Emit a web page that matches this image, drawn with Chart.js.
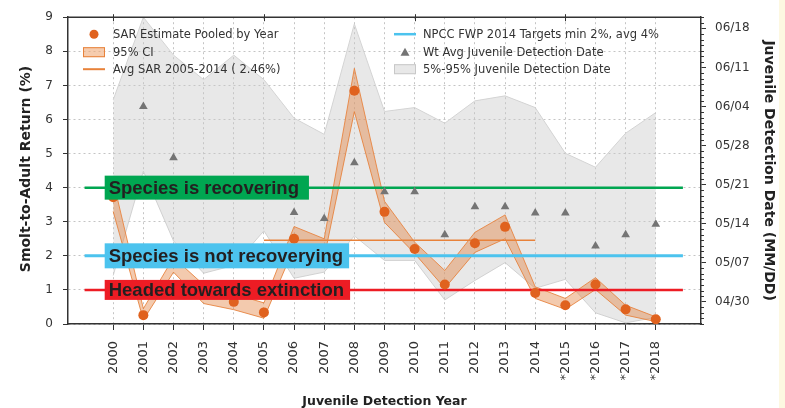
<!DOCTYPE html>
<html><head><meta charset="utf-8">
<script src="https://cdn.jsdelivr.net/npm/chart.js@4.4.0/dist/chart.umd.min.js"></script>
<style>
html,body{margin:0;padding:0;}
body{background:linear-gradient(to right,#ffffff 779px,#fdf8e1 779px);width:785px;height:408px;overflow:hidden;}
canvas{display:block;}
</style>
</head><body>
<canvas id="c" width="785" height="408"></canvas>
<script>
// ---------- data ----------
const categories = ['2000','2001','2002','2003','2004','2005','2006','2007','2008','2009','2010','2011','2012','2013','2014','*2015','*2016','*2017','*2018'];
const yearValues = [2000,2001,2002,2003,2004,2005,2006,2007,2008,2009,2010,2011,2012,2013,2014,2015,2016,2017,2018];
const sarEstimate = [3.72,0.26,1.78,0.95,0.65,0.34,2.50,2.20,6.84,3.29,2.20,1.16,2.37,2.85,0.91,0.55,1.16,0.43,0.14];
const sarCiLow    = [3.30,0.12,1.52,0.60,0.42,0.17,2.24,1.95,6.23,2.98,2.07,1.05,2.10,2.50,0.75,0.43,1.01,0.26,0.07];
const sarCiHigh   = [4.20,0.45,1.95,1.15,0.88,0.62,2.86,2.50,7.50,3.60,2.40,1.57,2.69,3.20,1.09,0.75,1.36,0.55,0.21];
const avgSar = 2.46;
const avgSarYears = [2005, 2014];
const targetLevels = [4, 2, 1];
const targetSpan = [1999.05, 2018.9];
// detection dates in days after 04/30
const detectWtAvg = [null,35.0,25.8,null,null,null,16.0,14.9,24.9,19.7,19.7,12.0,17.0,17.0,15.9,15.9,10.0,12.0,13.9];
const detect5pct  = [4.7,23.4,10.9,5.1,6.5,12.7,4.2,5.3,11.8,7.4,7.4,0.3,3.8,7.0,2.4,4.0,-2.0,-3.8,-2.8];
const detect95pct = [36.2,51.0,44.2,39.8,44.2,39.8,32.9,30.0,49.8,34.1,34.8,32.0,36.0,36.9,34.8,26.6,24.1,30.2,33.9];
const dateTickLabels = ['04/30','05/07','05/14','05/21','05/28','06/04','06/11','06/18'];
const dateAxisRange = ['04/26','06/20'];
const sarTicks = [0,1,2,3,4,5,6,7,8,9];
const statusLabels = ['Species is recovering','Species is not recoverying','Headed towards extinction'];
const legendLeft = ['SAR Estimate Pooled by Year','95% CI','Avg SAR 2005-2014 ( 2.46%)'];
const legendRight = ['NPCC FWP 2014 Targets min 2%, avg 4%','Wt Avg Juvenile Detection Date','5%-95% Juvenile Detection Date'];

// ---------- helpers ----------
function dayOffset(s){ const [m,d]=s.split('/').map(Number); return ({4:-30,5:0,6:31})[m]+d; }
function pts(arr){ return arr.map((v,i)=>({x:yearValues[i],y:v})).filter(p=>p.y!==null); }

const C = {
  dot:'#e0621e', ciFill:'rgba(226,122,52,0.40)', ciLine:'rgba(232,128,58,0.85)',
  avg:'#e8823a', tri:'#747474', grayFill:'rgba(200,200,200,0.42)', grayLine:'#d4d4d4',
  green:'#00a651', blue:'#4cc3ee', red:'#ed1c24', axis:'#333333', grid:'#c4c4c4', text:'#333333'
};
const statusColors = [C.green, C.blue, C.red];
const statusBoxH = [24, 25, 20];
const statusPadR = [10, 6, 6];

const FONT = '"DejaVu Sans", Verdana, sans-serif';

const datasets = [
  {label:'5%', data:pts(detect5pct), yAxisID:'yR', borderColor:C.grayLine, borderWidth:1, pointRadius:0, fill:false, order:10},
  {label:'95%', data:pts(detect95pct), yAxisID:'yR', borderColor:C.grayLine, borderWidth:1, pointRadius:0, fill:'-1', backgroundColor:C.grayFill, order:9},
  {label:'CI low', data:pts(sarCiLow), yAxisID:'y', borderColor:C.ciLine, borderWidth:1, pointRadius:0, fill:false, order:6},
  {label:'CI high', data:pts(sarCiHigh), yAxisID:'y', borderColor:C.ciLine, borderWidth:1, pointRadius:0, fill:'-1', backgroundColor:C.ciFill, order:5},
];
targetLevels.forEach((lv,i)=>{
  datasets.push({label:'target'+lv, data:[{x:targetSpan[0],y:lv},{x:targetSpan[1],y:lv}], yAxisID:'y',
    borderColor:statusColors[i], borderWidth:i===1?3:2.5, pointRadius:0, fill:false, order:4});
});
datasets.push({label:'avg', data:[{x:avgSarYears[0],y:avgSar},{x:avgSarYears[1],y:avgSar}], yAxisID:'y',
  borderColor:C.avg, borderWidth:1.5, pointRadius:0, fill:false, order:3});
datasets.push({label:'wtavg', data:pts(detectWtAvg), yAxisID:'yR', showLine:false, pointStyle:'triangle',
  pointRadius:5, backgroundColor:C.tri, borderColor:C.tri, borderWidth:0, order:2});
datasets.push({label:'sar', data:pts(sarEstimate), yAxisID:'y', showLine:false, pointStyle:'circle',
  pointRadius:5, backgroundColor:C.dot, borderColor:C.dot, borderWidth:0, order:1});

const majorDays = dateTickLabels.map(dayOffset);

const overlay = {
  id:'overlay',
  afterDatasetsDraw(chart){
    const {ctx, scales:{x,y}} = chart;
    ctx.save();
    ctx.font = 'bold 18.5px "Liberation Sans", Arial, sans-serif';
    ctx.textBaseline = 'middle';
    const tx = x.getPixelForValue(1999.85);
    statusLabels.forEach((t,i)=>{
      const yy = y.getPixelForValue(targetLevels[i]);
      const w = ctx.measureText(t).width;
      const h = statusBoxH[i];
      ctx.fillStyle = statusColors[i];
      ctx.fillRect(tx-4, yy-h/2, w+4+statusPadR[i], h);
      ctx.fillStyle = '#231f20';
      ctx.fillText(t, tx, yy+1);
    });
    ctx.restore();
  },
  afterDraw(chart){
    const {ctx, chartArea:ca, scales:{x,y,yR}} = chart;
    ctx.save();
    ctx.strokeStyle = C.axis; ctx.lineWidth = 1.5;
    ctx.beginPath(); ctx.moveTo(ca.left, ca.top); ctx.lineTo(ca.right, ca.top); ctx.stroke();
    ctx.lineWidth = 1;
    yearValues.filter(v=>v%5===0).forEach(v=>{
      const px = Math.round(x.getPixelForValue(v))+0.5;
      ctx.beginPath(); ctx.moveTo(px, ca.top-3); ctx.lineTo(px, ca.top+4); ctx.stroke();
    });
    for (let d=Math.ceil(yR.min); d<=yR.max; d++){
      if (majorDays.includes(d)) continue;
      const py = Math.round(yR.getPixelForValue(d))+0.5;
      ctx.beginPath(); ctx.moveTo(ca.right, py); ctx.lineTo(ca.right+3, py); ctx.stroke();
    }
    ctx.font = '11.5px ' + FONT;
    ctx.fillStyle = C.text; ctx.textBaseline = 'middle'; ctx.textAlign = 'left';
    const rows = [ca.top+17, ca.top+35, ca.top+52];
    const c1 = ca.left+26, c2 = ca.left+337;
    ctx.fillStyle = C.dot; ctx.beginPath(); ctx.arc(c1, rows[0], 4.5, 0, Math.PI*2); ctx.fill();
    ctx.fillStyle = 'rgba(240,170,120,0.6)'; ctx.fillRect(c1-11, rows[1]-5, 22, 10);
    ctx.strokeStyle = C.avg; ctx.lineWidth = 1; ctx.strokeRect(c1-10.5, rows[1]-4.5, 21, 9);
    ctx.lineWidth = 2; ctx.beginPath(); ctx.moveTo(c1-11, rows[2]); ctx.lineTo(c1+11, rows[2]); ctx.stroke();
    ctx.strokeStyle = C.blue; ctx.lineWidth = 2.5; ctx.beginPath(); ctx.moveTo(c2-11, rows[0]); ctx.lineTo(c2+11, rows[0]); ctx.stroke();
    ctx.fillStyle = C.tri; ctx.beginPath(); ctx.moveTo(c2, rows[1]-4.5); ctx.lineTo(c2+4.5, rows[1]+3.5); ctx.lineTo(c2-4.5, rows[1]+3.5); ctx.closePath(); ctx.fill();
    ctx.fillStyle = '#e8e8e8'; ctx.fillRect(c2-11, rows[2]-5, 22, 10);
    ctx.strokeStyle = '#c8c8c8'; ctx.lineWidth = 1; ctx.strokeRect(c2-10.5, rows[2]-4.5, 21, 9);
    ctx.fillStyle = C.text;
    legendLeft.forEach((t,i)=>ctx.fillText(t, c1+19, rows[i]+0.5));
    legendRight.forEach((t,i)=>ctx.fillText(t, c2+18, rows[i]+0.5));
    ctx.fillStyle = '#222';
    ctx.textAlign = 'center';
    ctx.font = 'bold 12.5px ' + FONT;
    ctx.fillText('Juvenile Detection Year', (ca.left+ca.right)/2, 402);
    ctx.font = 'bold 14px ' + FONT;
    ctx.save(); ctx.translate(26, 169); ctx.rotate(-Math.PI/2);
    ctx.fillText('Smolt-to-Adult Return (%)', 0, 0); ctx.restore();
    ctx.save(); ctx.translate(769, (ca.top+ca.bottom)/2); ctx.rotate(Math.PI/2);
    ctx.fillText('Juvenile Detection Date (MM/DD)', 0, 0); ctx.restore();
    ctx.restore();
  }
};

new Chart(document.getElementById('c'), {
  type:'line',
  data:{datasets},
  options:{
    responsive:false, animation:false, devicePixelRatio:1,
    layout:{padding:{top:15,left:0,right:0,bottom:0}},
    plugins:{legend:{display:false}, tooltip:{enabled:false}},
    elements:{line:{tension:0}},
    scales:{
      x:{type:'linear', position:'bottom', min:1998.5, max:2019.5,
        afterBuildTicks:s=>{ s.ticks = yearValues.map(v=>({value:v})); },
        afterFit:s=>{ s.height = 84; },
        ticks:{autoSkip:false, minRotation:90, maxRotation:90, padding:11, color:C.text,
          font:{family:FONT, size:13}, callback:(v)=>categories[yearValues.indexOf(v)]},
        grid:{color:C.grid, lineWidth:1, tickLength:6, tickColor:C.axis, tickBorderDash:[]},
        border:{color:C.axis, width:1.5, dash:[2,3]}
      },
      y:{type:'linear', position:'left', min:0, max:9,
        afterBuildTicks:s=>{ s.ticks = sarTicks.map(v=>({value:v})); },
        afterFit:s=>{ s.width = 68; },
        ticks:{padding:10, color:C.text, font:{family:FONT, size:12}},
        grid:{color:C.grid, lineWidth:1, tickLength:5, tickColor:C.axis, tickBorderDash:[]},
        border:{color:C.axis, width:1.5, dash:[2,3]}
      },
      yR:{type:'linear', position:'right', min:dayOffset(dateAxisRange[0]), max:dayOffset(dateAxisRange[1]),
        afterBuildTicks:s=>{ s.ticks = majorDays.map(v=>({value:v})); },
        afterFit:s=>{ s.width = 84; },
        ticks:{padding:9, color:C.text, font:{family:FONT, size:12},
          callback:(v)=>dateTickLabels[majorDays.indexOf(v)]},
        grid:{drawOnChartArea:false, tickLength:5, tickColor:C.axis, color:C.axis},
        border:{color:C.axis, width:1.5}
      }
    }
  },
  plugins:[overlay]
});
</script>
</body></html>
